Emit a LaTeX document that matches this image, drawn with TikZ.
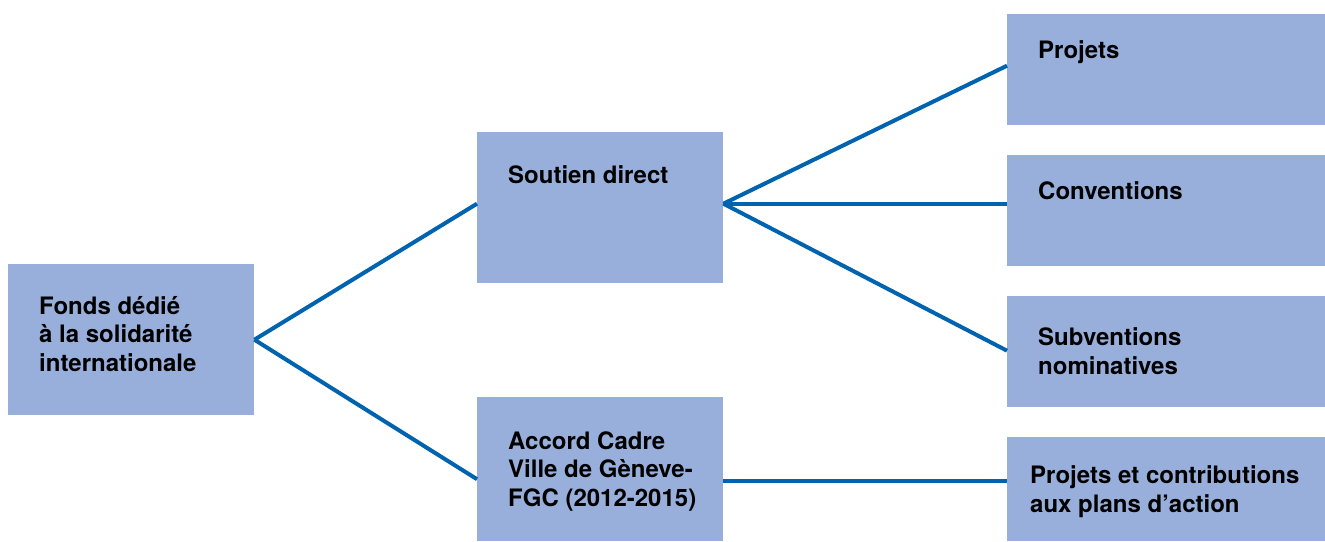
\documentclass[tikz,border=0pt]{standalone}
\usepackage{fontspec}
\setmainfont{TeX Gyre Heros}
\definecolor{boxblue}{HTML}{97AFDA}
\definecolor{linkblue}{HTML}{0063B0}
\tikzset{
  box/.style={fill=boxblue, draw=none, rectangle, inner sep=0pt, anchor=north west},
  lbl/.style={inner sep=0pt, anchor=base west, align=left, font=\fontsize{24}{28.5}\selectfont\bfseries},
  link/.style={draw=linkblue, line width=4pt}
}
\begin{document}
\begin{tikzpicture}[x=1pt,y=-1pt]
\useasboundingbox (0,0) rectangle (1325,541);
% boxes
\node[box, minimum width=246pt, minimum height=151pt] (fonds) at (8,264) {};
\node[box, minimum width=246pt, minimum height=151pt] (soutien) at (477,132) {};
\node[box, minimum width=246pt, minimum height=144pt] (accord) at (477,397) {};
\node[box, minimum width=318pt, minimum height=111pt] (projets) at (1007,14) {};
\node[box, minimum width=318pt, minimum height=111pt] (conv) at (1007,155) {};
\node[box, minimum width=318pt, minimum height=111pt] (subv) at (1007,296) {};
\node[box, minimum width=318pt, minimum height=104pt] (pc) at (1007,437) {};
% labels (anchor = baseline of last line)
\node[lbl] (fondsT) at (39,371) {Fonds dédié\\à la solidarité\\internationale};
\node[lbl] (soutienT) at (508,183) {Soutien direct};
\node[lbl] (accordT) at (508,506) {Accord Cadre\\Ville de Gèneve-\\FGC (2012-2015)};
\node[lbl] (projetsT) at (1038,58) {Projets};
\node[lbl] (convT) at (1038,199) {Conventions};
\node[lbl] (subvT) at (1038,374) {Subventions\\nominatives};
\node[lbl] (pcT) at (1030,512) {Projets et contributions\\aux plans d’action};
% connectors
\draw[link] (fonds.east) -- ([yshift=4pt]soutien.west);
\draw[link] (fonds.east) -- ([yshift=-10pt]accord.west);
\draw[link] ([yshift=4pt]soutien.east) -- ([yshift=4pt]projets.west);
\draw[link] ([yshift=4pt]soutien.east) -- ([yshift=7pt]conv.west);
\draw[link] ([yshift=4pt]soutien.east) -- ([yshift=1pt]subv.west);
\draw[link] ([yshift=-12pt]accord.east) -- ([yshift=8pt]pc.west);
\end{tikzpicture}
\end{document}
